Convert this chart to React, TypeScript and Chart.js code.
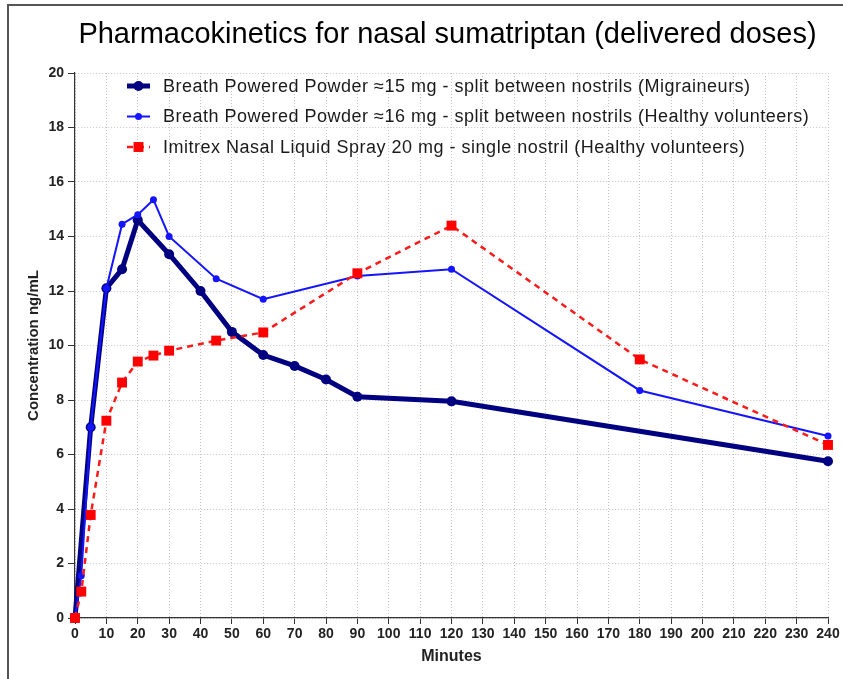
import React, { useEffect, useRef } from 'react';
import { Chart, registerables } from 'chart.js';

Chart.register(...registerables);

const FONT = "'Liberation Sans', Arial, Helvetica, sans-serif";

const chartTitle = 'Pharmacokinetics for nasal sumatriptan (delivered doses)';
const xAxisTitle = 'Minutes';
const yAxisTitle = 'Concentration ng/mL';

const migraineLabel = 'Breath Powered Powder \u224815 mg - split between nostrils (Migraineurs)';
const healthyPowderLabel = 'Breath Powered Powder \u224816 mg - split between nostrils (Healthy volunteers)';
const liquidLabel = 'Imitrex Nasal Liquid Spray 20 mg - single nostril (Healthy volunteers)';

const migraineMinutes = [0, 5, 10, 15, 20, 30, 40, 50, 60, 70, 80, 90, 120, 240];
const migraineConc = [0, 7.0, 12.1, 12.8, 14.6, 13.35, 12.0, 10.5, 9.65, 9.25, 8.75, 8.12, 7.95, 5.75];

const healthyPowderMinutes = [0, 2, 5, 10, 15, 20, 25, 30, 45, 60, 90, 120, 180, 240];
const healthyPowderConc = [0, 1.55, 7.0, 12.1, 14.45, 14.8, 15.35, 14.0, 12.45, 11.7, 12.55, 12.8, 8.35, 6.68];

const liquidMinutes = [0, 2, 5, 10, 15, 20, 25, 30, 45, 60, 90, 120, 180, 240];
const liquidConc = [0, 0.97, 3.78, 7.24, 8.64, 9.41, 9.63, 9.81, 10.18, 10.48, 12.65, 14.4, 9.49, 6.35];

const xMin = 0;
const xMax = 240;
const xStep = 10;
const yMin = 0;
const yMax = 20;
const yStep = 2;

const toPoints = (xs: number[], ys: number[]) => xs.map((x, i) => ({ x, y: ys[i] }));

const plotTitle = {
  id: 'plotTitle',
  afterDraw(chart: any) {
    const { ctx, chartArea } = chart;
    ctx.save();
    ctx.fillStyle = '#000';
    ctx.font = `29px ${FONT}`;
    ctx.textAlign = 'center';
    ctx.textBaseline = 'middle';
    ctx.fillText(chartTitle, (chartArea.left + chartArea.right) / 2 - 4, chartArea.top - 38);
    ctx.restore();
  },
};

const insideLegend = {
  id: 'insideLegend',
  afterDatasetsDraw(chart: any) {
    const { ctx, chartArea } = chart;
    const x0 = chartArea.left + 52;
    const y0 = chartArea.top + 13;
    const lineLen = 23;
    chart.data.datasets.forEach((ds: any, i: number) => {
      const y = y0 + i * 30.5;
      ctx.save();
      ctx.strokeStyle = ds.borderColor;
      ctx.lineWidth = ds.borderWidth;
      ctx.setLineDash(ds.borderDash || []);
      ctx.beginPath();
      ctx.moveTo(x0, y);
      ctx.lineTo(x0 + lineLen, y);
      ctx.stroke();
      ctx.setLineDash([]);
      ctx.fillStyle = ds.pointBackgroundColor;
      const cx = x0 + lineLen / 2;
      if (ds.pointStyle === 'rect') {
        const s = ds.pointRadius * Math.SQRT1_2;
        ctx.fillRect(cx - s, y - s, 2 * s, 2 * s);
      } else {
        ctx.beginPath();
        ctx.arc(cx, y, ds.pointRadius, 0, Math.PI * 2);
        ctx.fill();
      }
      ctx.fillStyle = '#1a1a1a';
      ctx.font = `18px ${FONT}`;
      try {
        (ctx as any).letterSpacing = '0.5px';
      } catch (e) {}
      ctx.textBaseline = 'middle';
      ctx.textAlign = 'left';
      ctx.fillText(ds.label, x0 + 36, y + 1);
      try {
        (ctx as any).letterSpacing = '0px';
      } catch (e) {}
      ctx.restore();
    });
  },
};

export default function App() {
  const ref = useRef<HTMLCanvasElement>(null);

  useEffect(() => {
    document.body.style.margin = '0';
    const canvas = ref.current;
    if (!canvas) return;
    const chart = new Chart(canvas, {
      type: 'line',
      data: {
        datasets: [
          {
            label: migraineLabel,
            data: toPoints(migraineMinutes, migraineConc),
            borderColor: '#000080',
            backgroundColor: '#000080',
            pointBackgroundColor: '#000080',
            pointBorderColor: '#000080',
            borderWidth: 5,
            pointRadius: 5,
            pointBorderWidth: 0,
            pointStyle: 'circle',
            tension: 0,
            clip: false,
            order: 2,
          } as any,
          {
            label: healthyPowderLabel,
            data: toPoints(healthyPowderMinutes, healthyPowderConc),
            borderColor: '#1414ff',
            backgroundColor: '#1414ff',
            pointBackgroundColor: '#1414ff',
            pointBorderColor: '#1414ff',
            borderWidth: 2,
            pointRadius: 3.5,
            pointBorderWidth: 0,
            pointStyle: 'circle',
            tension: 0,
            clip: false,
            order: 1,
          } as any,
          {
            label: liquidLabel,
            data: toPoints(liquidMinutes, liquidConc),
            borderColor: '#ff1a1a',
            backgroundColor: '#ff0000',
            pointBackgroundColor: '#ff0000',
            pointBorderColor: '#ff0000',
            borderWidth: 2.5,
            borderDash: [6, 5],
            pointRadius: 7,
            pointBorderWidth: 0,
            pointStyle: 'rect',
            tension: 0,
            clip: false,
            order: 0,
          } as any,
        ],
      },
      options: {
        responsive: false,
        animation: false,
        devicePixelRatio: 1,
        layout: { padding: { left: 0, right: 15, top: 73, bottom: 0 } },
        plugins: {
          legend: { display: false },
          tooltip: { enabled: false },
          title: { display: false },
        },
        scales: {
          x: {
            type: 'linear',
            min: xMin,
            max: xMax,
            afterFit: (scale: any) => {
              scale.height = 61;
            },
            ticks: {
              stepSize: xStep,
              autoSkip: false,
              maxRotation: 0,
              padding: 2,
              color: '#222',
              font: { family: FONT, size: 14, weight: 'bold' },
            },
            grid: {
              color: '#c4c4c4',
              lineWidth: 1,
              tickColor: '#333',
              tickLength: 6,
              tickWidth: 1,
            },
            border: { display: true, color: '#333', width: 1.2, dash: [1, 2] },
            title: {
              display: true,
              text: xAxisTitle,
              color: '#222',
              font: { family: FONT, size: 16, weight: 'bold' },
              padding: { top: 4, bottom: 13 },
            },
          },
          y: {
            type: 'linear',
            min: yMin,
            max: yMax,
            afterFit: (scale: any) => {
              scale.width = 75;
            },
            ticks: {
              stepSize: yStep,
              padding: 4,
              color: '#222',
              font: { family: FONT, size: 14, weight: 'bold' },
            },
            grid: {
              color: '#c4c4c4',
              lineWidth: 1,
              tickColor: '#333',
              tickLength: 7,
              tickWidth: 1,
            },
            border: { display: true, color: '#333', width: 1.2, dash: [1, 2] },
            title: {
              display: true,
              text: yAxisTitle,
              color: '#222',
              font: { family: FONT, size: 15, weight: 'bold' },
              padding: { top: 25, bottom: 0 },
            },
          },
        },
      },
      plugins: [insideLegend, plotTitle],
    } as any);
    return () => chart.destroy();
  }, []);

  return (
    <div style={{ position: 'relative', width: 843, height: 679, overflow: 'hidden', background: '#fff' }}>
      <div
        style={{
          position: 'absolute',
          left: 7,
          top: 4,
          width: 860,
          height: 700,
          borderTop: '2px solid #555',
          borderLeft: '2px solid #555',
        }}
      />
      <canvas ref={ref} width={843} height={679} style={{ position: 'absolute', left: 0, top: 0, width: 843, height: 679 }} />
    </div>
  );
}
